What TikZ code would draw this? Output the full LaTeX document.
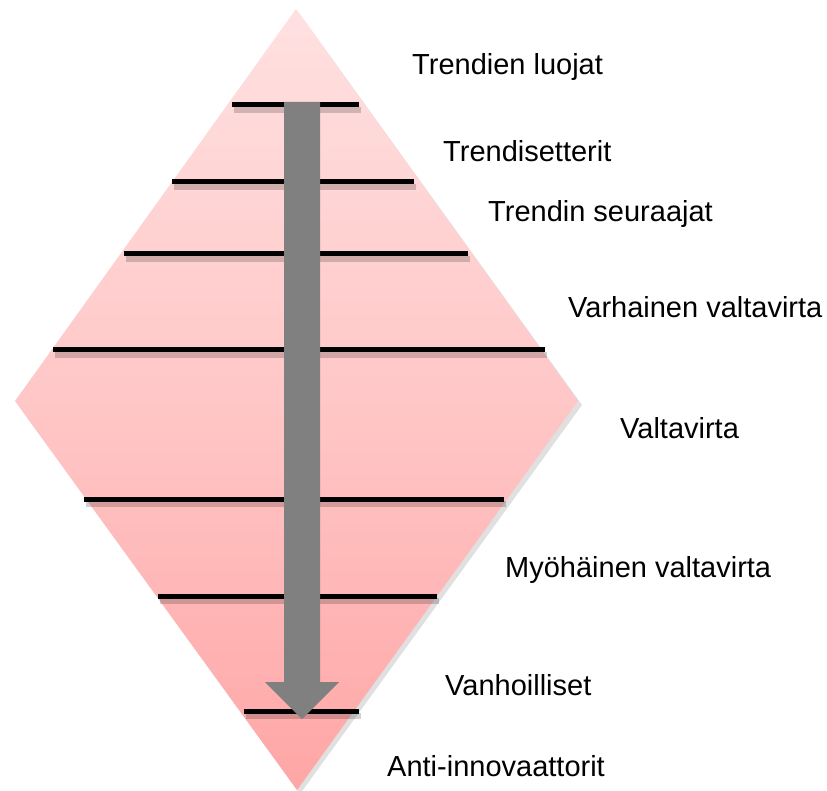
\documentclass[tikz,border=0pt]{standalone}
\usepackage{fontspec}
\setmainfont{Liberation Sans}
\begin{document}
\begin{tikzpicture}[x=1pt,y=-1pt,
  lbl/.style={font=\fontsize{29}{34}\selectfont, anchor=base west, inner sep=0pt, text=black},
  bar/.style={line width=5pt, black},
  barshadow/.style={line width=6pt, black, opacity=0.18},
  arrowfill/.style={fill=black!50}]
\useasboundingbox (0,0) rectangle (827,791);
% diamond shadow
\fill[black, opacity=0.12] (299,13) -- (582,405) -- (300,794) -- (18,405) -- cycle;
\shade[top color=red!12!white, bottom color=red!35!white, middle color=red!22!white]
  (296,9) -- (578,401) -- (297,790) -- (15,401) -- cycle;
% bar shadows
\foreach \ya/\xa/\xb in {105/232/359, 182/172/414, 254/124/468, 350/53/545, 499/84/504, 596/158/437, 711/244/359}{
  \draw[barshadow] (\xa+2,\ya+5) -- (\xb+2,\ya+5);
}
% bars
\foreach \ya/\xa/\xb in {105/232/359, 182/172/414, 254/124/468, 350/53/545, 499/84/504, 596/158/437, 711/244/359}{
  \draw[bar] (\xa,\ya) -- (\xb,\ya);
}
% arrow
\fill[arrowfill] (284,102) -- (320,102) -- (320,682) -- (339,682) -- (302,719) -- (265,682) -- (284,682) -- cycle;
% labels
\node[lbl] (t1) at (412,75) {Trendien luojat};
\node[lbl] (t2) at (443,162) {Trendisetterit};
\node[lbl] (t3) at (488,222) {Trendin seuraajat};
\node[lbl] (t4) at (568,318) {Varhainen valtavirta};
\node[lbl] (t5) at (620,438) {Valtavirta};
\node[lbl] (t6) at (505,577) {Myöhäinen valtavirta};
\node[lbl] (t7) at (445,695) {Vanhoilliset};
\node[lbl] (t8) at (387,776) {Anti-innovaattorit};
\end{tikzpicture}
\end{document}
